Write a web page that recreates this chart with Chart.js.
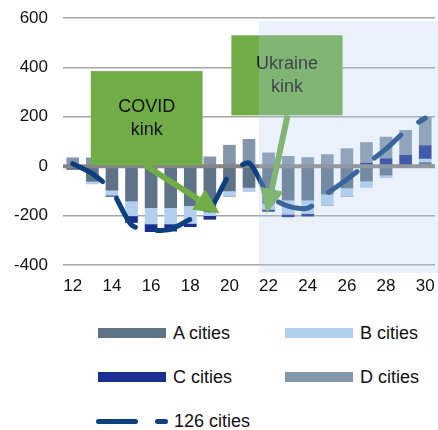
<!DOCTYPE html>
<html>
<head>
<meta charset="utf-8">
<script src="https://cdn.jsdelivr.net/npm/chart.js@4.4.0/dist/chart.umd.min.js"></script>
<style>
  body { margin: 0; background: #fff; font-family: 'Liberation Sans', Arial, sans-serif; }
  #wrap { position: relative; width: 438px; height: 430px; }
  #chart { position: absolute; left: 0; top: 0; }
  .leg { position: absolute; font-size: 18px; color: #111; line-height: 20px; }
  .sw { position: absolute; height: 10px; width: 68px; }
  .dash { position: absolute; height: 5px; background: #0E4080; border-radius: 3px; }
</style>
</head>
<body>
<div id="wrap">
  <canvas id="chart" width="438" height="300"></canvas>
  <div id="legend"></div>
</div>
<script>
// periods on the x axis
const periods = ['12','13','14','15','16','17','18','19','20','21','22','23','24','25','26','27','28','29','30'];

// stacked contributions
const aCities = [-13, -61, -97, -141, -168, -168, -160, -185, -100, -86, -150, -137, -137, -113, -88, -60, -36, 0, 15];
const bCities = [0, -10, -21, -60, -66, -66, -72, -15, -21, -14, -25, -58, -55, -46, -33, -26, -11, 0, 14];
const cCities = [0, 0, -4, -27, -31, -29, -13, -15, 0, 0, -8, -10, -10, 0, 0, 12, 30, 44, 54];
const dCities = [34, 34, 20, 5, 5, 8, 30, 38, 85, 109, 54, 40, 35, 47, 71, 84, 88, 101, 117];

// total line
const allCities = [10, -30, -100, -238, -260, -255, -215, -175, -36, 13, -118, -162, -170, -110, -54, 8, 70, 143, 195];

const yTicks = [-400, -200, 0, 200, 400, 600];

const barNames = ['A cities', 'B cities', 'C cities', 'D cities'];
const barColors = ['#5E7288', '#B3CFEE', '#1B2F91', '#8497AA'];
const lineName = '126 cities';
const lineColor = '#0E4080';
const green = '#70AD47';
const fontFamily = '"Liberation Sans", Arial, sans-serif';

// zero line goes on top of the bars but under the line
const zeroLine = {
  id: 'zeroLine',
  beforeDatasetDraw(chart, args) {
    if (args.index !== 0) return;
    const { ctx, chartArea, scales } = chart;
    const y = scales.y.getPixelForValue(0);
    ctx.save();
    ctx.strokeStyle = '#858585';
    ctx.lineWidth = 4;
    ctx.beginPath();
    ctx.moveTo(chartArea.left, y);
    ctx.lineTo(chartArea.right, y);
    ctx.stroke();
    ctx.restore();
  }
};

// text boxes with arrows + shaded area
const notes = {
  id: 'notes',
  afterDatasetsDraw(chart) {
    const { ctx, chartArea, scales } = chart;
    const step = scales.x.getPixelForValue(1) - scales.x.getPixelForValue(0);
    const px = i => scales.x.getPixelForValue(0) + i * step;
    const py = v => scales.y.getPixelForValue(v);

    function box(x0, x1, v0, v1, lines) {
      const l = px(x0), r = px(x1), t = py(v0), b = py(v1);
      ctx.fillStyle = green;
      ctx.fillRect(l, t, r - l, b - t);
      ctx.fillStyle = '#111';
      ctx.font = '18px ' + fontFamily;
      ctx.textAlign = 'center';
      ctx.textBaseline = 'middle';
      const cx = (l + r) / 2, cy = (t + b) / 2;
      ctx.fillText(lines[0], cx, cy - 11);
      ctx.fillText(lines[1], cx, cy + 12);
    }

    function arrow(x0, v0, x1, v1) {
      const sx = px(x0), sy = py(v0), ex = px(x1), ey = py(v1);
      const ang = Math.atan2(ey - sy, ex - sx);
      const head = 25, half = 12;
      const bx = ex - head * Math.cos(ang), by = ey - head * Math.sin(ang);
      ctx.strokeStyle = green;
      ctx.lineWidth = 6;
      ctx.beginPath();
      ctx.moveTo(sx, sy);
      ctx.lineTo(bx, by);
      ctx.stroke();
      ctx.fillStyle = green;
      ctx.beginPath();
      ctx.moveTo(ex, ey);
      ctx.lineTo(bx + half * Math.sin(ang), by - half * Math.cos(ang));
      ctx.lineTo(bx - half * Math.sin(ang), by + half * Math.cos(ang));
      ctx.closePath();
      ctx.fill();
    }

    ctx.save();
    box(0.92, 6.63, 385, 4, ['COVID', 'kink']);
    arrow(3.7, 4, 7.5, -190);
    box(8.1, 13.78, 530, 206, ['Ukraine', 'kink']);
    arrow(10.97, 206, 9.9, -192);

    // shaded area from 21/22 onwards
    const sx = px(9.5);
    ctx.fillStyle = 'rgba(178, 205, 238, 0.27)';
    ctx.fillRect(sx, chartArea.top + 3, chart.width - sx, chartArea.bottom - chartArea.top + 5);
    ctx.restore();
  }
};

const datasets = [{
  type: 'line',
  label: lineName,
  data: allCities,
  stack: 'line',
  borderColor: lineColor,
  borderWidth: 5,
  borderDash: [35, 22],
  borderCapStyle: 'round',
  tension: 0.25,
  pointRadius: 0,
  fill: false
}];
barNames.forEach((name, i) => {
  datasets.push({
    type: 'bar',
    label: name,
    data: [aCities, bCities, cCities, dCities][i],
    backgroundColor: barColors[i],
    stack: 'bars',
    barThickness: 12
  });
});

new Chart(document.getElementById('chart'), {
  data: { labels: periods, datasets },
  options: {
    responsive: false,
    animation: false,
    devicePixelRatio: 1,
    layout: { padding: { top: 18, right: 3, left: 0, bottom: 0 } },
    plugins: { legend: { display: false }, tooltip: { enabled: false } },
    scales: {
      x: {
        stacked: true,
        grid: { display: false, drawTicks: false },
        border: { display: false },
        ticks: {
          autoSkip: false,
          maxRotation: 0,
          padding: 11,
          color: '#111',
          font: { family: fontFamily, size: 17 },
          callback: (v, i) => (i % 2 === 0 ? periods[i] : '')
        },
        afterFit: s => { s.height = 35; s.paddingLeft = 0; s.paddingRight = 0; }
      },
      y: {
        stacked: true,
        min: yTicks[0],
        max: yTicks[yTicks.length - 1],
        afterBuildTicks: s => { s.ticks = yTicks.map(v => ({ value: v })); },
        grid: {
          drawTicks: false,
          color: c => (c.tick.value === 0 ? 'rgba(0,0,0,0)' : '#A6A6A6'),
          lineWidth: 1.5
        },
        border: { display: false },
        ticks: {
          padding: 15,
          color: '#111',
          font: { family: fontFamily, size: 17 }
        },
        afterFit: s => { s.width = 63; s.paddingTop = 0; s.paddingBottom = 0; }
      }
    }
  },
  plugins: [zeroLine, notes]
});

// legend below the chart
const legend = document.getElementById('legend');
const legRows = [333, 377];
barNames.forEach((name, i) => {
  const col = i % 2, row = Math.floor(i / 2);
  const sw = document.createElement('div');
  sw.className = 'sw';
  sw.style.background = barColors[i];
  sw.style.left = (col ? 285 : 98) + 'px';
  sw.style.top = (legRows[row] - 5) + 'px';
  legend.appendChild(sw);
  const t = document.createElement('div');
  t.className = 'leg';
  t.textContent = name;
  t.style.left = (col ? 360 : 173) + 'px';
  t.style.top = (legRows[row] - 10) + 'px';
  legend.appendChild(t);
});
[[96, 42], [155, 13]].forEach(([l, w]) => {
  const d = document.createElement('div');
  d.className = 'dash';
  d.style.left = l + 'px';
  d.style.width = w + 'px';
  d.style.top = '419px';
  legend.appendChild(d);
});
const lt = document.createElement('div');
lt.className = 'leg';
lt.textContent = lineName;
lt.style.left = '174px';
lt.style.top = '411px';
legend.appendChild(lt);
</script>
</body>
</html>
